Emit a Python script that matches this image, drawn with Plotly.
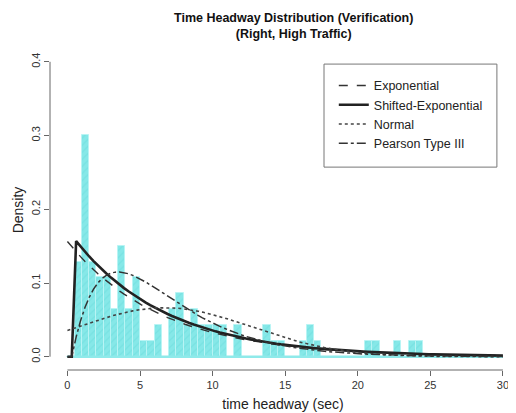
import math
import numpy as np
import plotly.graph_objects as go

# ---------------- data ----------------
bin_width = 0.5
hist_start = 0.0
counts = [0, 6, 14, 6, 5, 5, 3, 7, 3, 5,
          1, 1, 2, 0, 3, 4, 2, 3, 2, 2,
          2, 2, 0, 2, 0, 0, 0, 2, 1, 1,
          0, 0, 1, 2, 1, 0, 0, 0, 0, 0,
          0, 1, 1, 0, 0, 1, 0, 1, 1, 0,
          0, 0, 0, 0, 0, 0, 0, 0, 0, 0]

# fitted distribution parameters
exp_mean = 6.4
sexp_shift = 0.55
sexp_rate = 0.158
norm_mean = 6.7
norm_sd = 6.0
p3_shape = 2.0
p3_scale = 3.2
p3_loc = 0.3

x_ticks = [0, 5, 10, 15, 20, 25, 30]
y_ticks = [0.0, 0.1, 0.2, 0.3, 0.4]
y_tick_labels = ["0.0", "0.1", "0.2", "0.3", "0.4"]

legend_names = ["Exponential", "Shifted-Exponential", "Normal", "Pearson Type III"]

title_text = "Time Headway Distribution (Verification)<br>(Right, High Traffic)"
x_title = "time headway (sec)"
y_title = "Density"

# ---------------- derived ----------------
n_obs = sum(counts)
edges = [hist_start + i * bin_width for i in range(len(counts) + 1)]
centers = [e + bin_width / 2 for e in edges[:-1]]
density = [c / (n_obs * bin_width) for c in counts]

xs = np.linspace(x_ticks[0], x_ticks[-1], 101)


def exp_pdf(x):
    return np.exp(-x / exp_mean) / exp_mean


def sexp_pdf(x):
    return np.where(x >= sexp_shift, sexp_rate * np.exp(-sexp_rate * (x - sexp_shift)), 0.0)


def norm_pdf(x):
    return np.exp(-0.5 * ((x - norm_mean) / norm_sd) ** 2) / (norm_sd * math.sqrt(2 * math.pi))


def p3_pdf(x):
    t = np.clip(x - p3_loc, 0, None)
    return np.where(x > p3_loc,
                    t ** (p3_shape - 1) * np.exp(-t / p3_scale) / (math.gamma(p3_shape) * p3_scale ** p3_shape),
                    0.0)


fig = go.Figure()

# zero baseline of histogram (empty bins drawn as a flat line)
fig.add_trace(go.Scatter(x=[edges[0], edges[-1]], y=[0, 0], mode="lines",
                         line=dict(color="#8FEAEA", width=2.5), showlegend=False,
                         hoverinfo="skip"))

fig.add_trace(go.Bar(x=centers, y=density, width=bin_width,
                     marker=dict(color="#86E8E8",
                                 line=dict(color="#B8F4F4", width=1),
                                 pattern=dict(shape="/", fgcolor="#6ADCDC", size=5, solidity=0.25)),
                     showlegend=False))

curve_styles = [
    (exp_pdf, "dash", 1.4, "#333333"),
    (sexp_pdf, "solid", 2.6, "#222222"),
    (norm_pdf, "dot", 1.6, "#444444"),
    (p3_pdf, "dashdot", 1.5, "#333333"),
]
for name, (fn, dash, w, col) in zip(legend_names, curve_styles):
    fig.add_trace(go.Scatter(x=xs, y=fn(xs), mode="lines", name=name,
                             line=dict(color=col, width=w, dash=dash)))

axis_col = "#666666"
fig.update_layout(
    width=508, height=405,
    margin=dict(l=42, r=0, t=42, b=43),
    paper_bgcolor="white", plot_bgcolor="white",
    font=dict(family="Liberation Sans, Arial, sans-serif", color="#222222"),
    bargap=0,
    xaxis=dict(range=[-1.2, 30.9], tickvals=x_ticks, ticks="outside", ticklen=5,
               tickcolor=axis_col, showgrid=False, zeroline=False, showline=False,
               tickfont=dict(size=11, color="#333333"),
               title=dict(text=x_title, font=dict(size=14), standoff=8)),
    yaxis=dict(range=[-0.018, 0.416], tickvals=y_ticks, ticktext=y_tick_labels,
               ticks="outside", ticklen=5, tickangle=-90,
               tickcolor=axis_col, showgrid=False, zeroline=False, showline=False,
               tickfont=dict(size=11, color="#333333"),
               title=dict(text=y_title, font=dict(size=14), standoff=2)),
    legend=dict(x=0.609, y=0.935, xanchor="left", yanchor="top",
                bgcolor="rgba(0,0,0,0)", borderwidth=0,
                font=dict(size=12.5, color="#222222"), tracegroupgap=0),
    annotations=[
        dict(text=title_text, xref="paper", yref="paper", x=0.523, y=1.075,
             xanchor="center", yanchor="middle", showarrow=False,
             font=dict(size=12.5, family="Liberation Sans, Arial, sans-serif", color="#111111", weight="bold")),
    ],
    shapes=[
        dict(type="line", xref="x", yref="paper", x0=x_ticks[0], x1=x_ticks[-1], y0=0, y1=0,
             line=dict(color=axis_col, width=1)),
        dict(type="line", xref="paper", yref="y", x0=0, x1=0, y0=y_ticks[0], y1=y_ticks[-1],
             line=dict(color=axis_col, width=1)),
        dict(type="rect", xref="paper", yref="paper", x0=0.588, x1=0.959, y0=0.634, y1=0.956,
             line=dict(color="#777777", width=1), fillcolor="white", layer="above"),
    ],
)

fig.write_html("out.html")
